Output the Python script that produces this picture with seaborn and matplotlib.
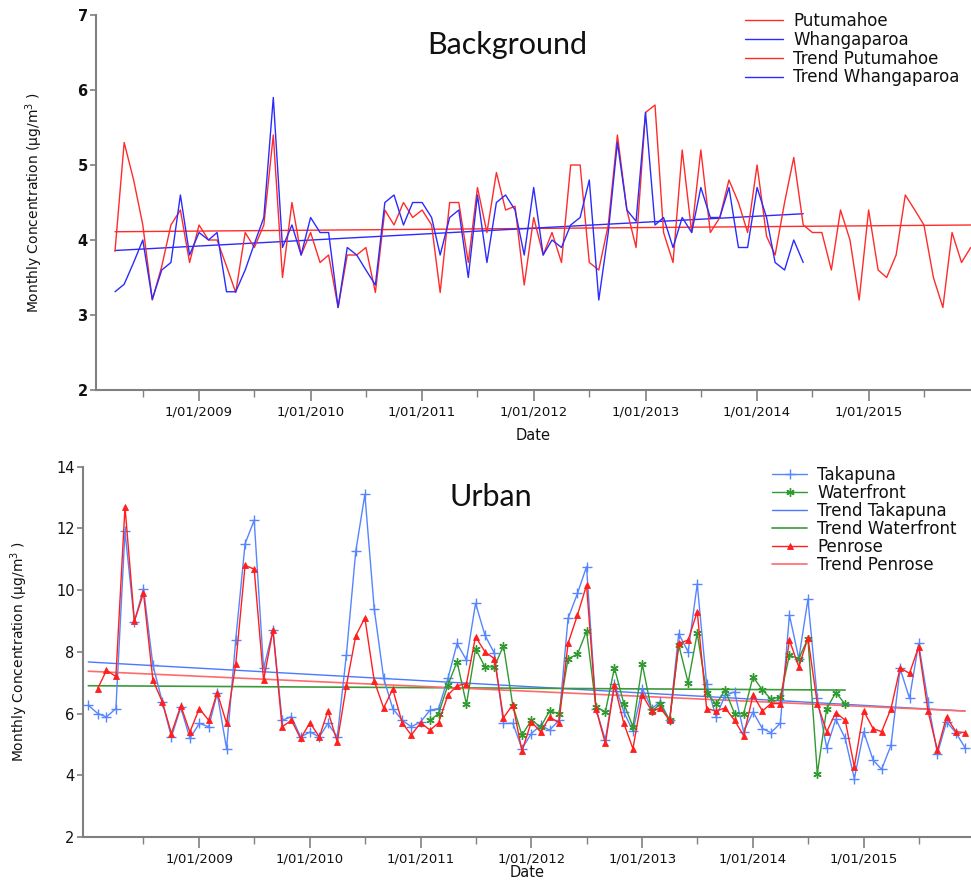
import numpy as np
import pandas as pd
import matplotlib
matplotlib.use("Agg")
import matplotlib.pyplot as plt
import matplotlib.dates as mdates
import seaborn as sns

# ---------------- data ----------------
bg_start = "2008-04-01"
putumahoe = [3.85, 5.3, 4.8, 4.2, 3.2, 3.65, 4.2, 4.4, 3.7, 4.2, 4.0, 4.0, 3.65, 3.3, 4.1, 3.9,
             4.2, 5.4, 3.5, 4.5, 3.8, 4.1, 3.7, 3.8, 3.1, 3.8, 3.8, 3.9, 3.3, 4.4, 4.2, 4.5,
             4.3, 4.4, 4.2, 3.3, 4.5, 4.5, 3.7, 4.7, 4.1, 4.9, 4.4, 4.45, 3.4, 4.3, 3.8, 4.1,
             3.7, 5.0, 5.0, 3.7, 3.6, 4.2, 5.4, 4.4, 3.9, 5.7, 5.8, 4.1, 3.7, 5.2, 4.1, 5.2,
             4.1, 4.3, 4.8, 4.5, 4.1, 5.0, 4.05, 3.8, 4.5, 5.1, 4.2, 4.1, 4.1, 3.6, 4.4, 4.0,
             3.2, 4.4, 3.6, 3.5, 3.8, 4.6, 4.4, 4.2, 3.5, 3.1, 4.1, 3.7, 3.9]
whangaparoa = [3.31, 3.41, 3.7, 4.0, 3.21, 3.6, 3.7, 4.6, 3.8, 4.1, 4.0, 4.1, 3.31, 3.31, 3.6,
               3.95, 4.3, 5.9, 3.9, 4.2, 3.8, 4.3, 4.1, 4.1, 3.1, 3.9, 3.8, 3.6, 3.4, 4.5, 4.6,
               4.2, 4.5, 4.5, 4.3, 3.8, 4.3, 4.4, 3.5, 4.6, 3.7, 4.5, 4.6, 4.4, 3.8, 4.7, 3.8,
               4.0, 3.9, 4.2, 4.3, 4.8, 3.2, 4.1, 5.3, 4.4, 4.25, 5.7, 4.2, 4.3, 3.9, 4.3, 4.1,
               4.7, 4.3, 4.3, 4.7, 3.9, 3.9, 4.7, 4.3, 3.7, 3.6, 4.0, 3.7]
trend_putumahoe = [4.11, 4.20]      # value at first and last month
trend_whangaparoa = [3.86, 4.35]

urban_start = "2008-01-01"
takapuna = [6.27, 6.0, 5.89, 6.16, 11.9, 8.97, 10.05, 7.57, 6.38, 5.24, 6.2, 5.19, 5.68, 5.57,
            6.65, 4.86, 8.38, 11.5, 12.27, 7.46, 8.7, 5.78, 5.9, 5.24, 5.4, 5.24, 5.68, 5.24,
            7.9, 11.26, 13.1, 9.38, 7.14, 6.16, 5.78, 5.57, 5.73, 6.11, 6.16, 7.14, 8.27, 7.73,
            9.57, 8.54, 7.95, 5.68, 5.68, 4.86, 5.35, 5.62, 5.46, 5.78, 9.08, 9.89, 10.76, 6.16,
            5.14, 6.97, 6.05, 5.43, 6.81, 6.16, 6.38, 5.78, 8.59, 8.0, 10.2, 6.97, 5.89, 6.59,
            6.7, 5.41, 6.05, 5.51, 5.38, 5.68, 9.19, 7.78, 9.7, 6.49, 4.89, 5.82, 5.19, 3.89,
            5.41, 4.49, 4.19, 4.97, 7.46, 6.49, 8.27, 6.38, 4.7, 5.73, 5.38, 4.89]
penrose_start = "2008-02-01"
penrose = [6.81, 7.4, 7.2, 12.7, 9.0, 9.9, 7.08, 6.38, 5.35, 6.25, 5.4, 6.16, 5.78, 6.68, 5.68,
           7.59, 10.8, 10.68, 7.08, 8.7, 5.57, 5.78, 5.19, 5.7, 5.24, 6.08, 5.08, 6.9, 8.52, 9.1,
           7.05, 6.18, 6.79, 5.7, 5.3, 5.7, 5.46, 5.7, 6.6, 6.9, 6.97, 8.49, 8.0, 7.78, 5.86,
           6.29, 4.78, 5.73, 5.4, 5.89, 5.7, 8.27, 9.19, 10.16, 6.16, 5.03, 6.92, 5.68, 4.86,
           6.6, 6.08, 6.18, 5.78, 8.27, 8.38, 9.3, 6.16, 6.08, 6.18, 5.78, 5.28, 6.6, 6.08, 6.32,
           6.32, 8.38, 7.51, 8.45, 6.32, 5.41, 6.03, 5.78, 4.27, 6.08, 5.51, 5.41, 6.16, 7.48,
           7.3, 8.16, 6.08, 4.81, 5.89, 5.41, 5.38]
waterfront_start = "2011-02-01"
waterfront = [5.78, 6.0, 6.92, 7.68, 6.3, 8.1, 7.51, 7.51, 8.2, 6.25, 5.3, 5.78, 5.57, 6.08, 6.0,
              7.78, 7.92, 8.67, 6.22, 6.05, 7.48, 6.32, 5.57, 7.59, 6.08, 6.3, 5.78, 8.22, 7.0,
              8.6, 6.68, 6.3, 6.76, 6.0, 6.0, 7.19, 6.76, 6.47, 6.54, 7.89, 7.78, 8.43, 4.05,
              6.16, 6.68, 6.3]
trend_takapuna = [7.67, 6.08]
trend_penrose = [7.37, 6.08]
trend_waterfront = [6.90, 6.76]

tick_years = [2009, 2010, 2011, 2012, 2013, 2014, 2015]
tick_labels = ["1/01/%d" % y for y in tick_years]

# ---------------- style ----------------
sns.set_theme(style="ticks")
plt.rcParams["font.family"] = ["DejaVu Sans"]

W, H = 971, 881
fig = plt.figure(figsize=(W / 100, H / 100), dpi=100)


def px_axes(left, top, right, bottom):
    return fig.add_axes([left / W, 1 - bottom / H, (right - left) / W, (bottom - top) / H])


def set_xlim_px(ax, d_a, px_a, d_b, px_b, left_px, right_px):
    a = mdates.date2num(pd.Timestamp(d_a))
    b = mdates.date2num(pd.Timestamp(d_b))
    s = (b - a) / (px_b - px_a)
    ax.set_xlim(a + (left_px - px_a) * s, a + (right_px - px_a) * s)


def monthly(start, vals):
    return pd.DataFrame({"date": pd.date_range(start, periods=len(vals), freq="MS"), "value": vals})


def trend(start, n, vals):
    d = pd.date_range(start, periods=n, freq="MS")
    return pd.DataFrame({"date": [d[0], d[-1]], "value": vals})


ax1 = px_axes(96, 15, 971, 390)
ax2 = px_axes(83, 466.7, 971, 836.9)

RED = "#ff2b2b"
BLUE = "#2b2bff"

# ---- top panel ----
dp = monthly(bg_start, putumahoe)
dw = monthly(bg_start, whangaparoa)
sns.lineplot(data=trend(bg_start, len(putumahoe), trend_putumahoe), x="date", y="value", ax=ax1,
             color=RED, lw=1.0, label="Trend Putumahoe")
sns.lineplot(data=trend(bg_start, len(whangaparoa), trend_whangaparoa), x="date", y="value", ax=ax1,
             color=BLUE, lw=1.0, label="Trend Whangaparoa")
sns.lineplot(data=dp, x="date", y="value", ax=ax1, color=RED, lw=1.0, label="Putumahoe",
             estimator=None)
sns.lineplot(data=dw, x="date", y="value", ax=ax1, color=BLUE, lw=1.0, label="Whangaparoa",
             estimator=None)

# ---- bottom panel ----
T_BLUE = "#5585ff"
GREEN = "#2f9a2f"
P_RED = "#ff1f1f"
dt = monthly(urban_start, takapuna)
dpn = monthly(penrose_start, penrose)
dwf = monthly(waterfront_start, waterfront)
sns.lineplot(data=trend(urban_start, len(takapuna), trend_takapuna), x="date", y="value", ax=ax2,
             color="#4a78ff", lw=1.0, label="Trend Takapuna")
sns.lineplot(data=trend(urban_start, 83, trend_waterfront), x="date", y="value", ax=ax2,
             color="#3a9a3a", lw=1.2, label="Trend Waterfront")
sns.lineplot(data=trend(urban_start, len(takapuna), trend_penrose), x="date", y="value", ax=ax2,
             color="#ff6a6a", lw=1.2, label="Trend Penrose")
sns.lineplot(data=dt, x="date", y="value", ax=ax2, color=T_BLUE, lw=1.0, marker="+",
             markersize=7, markeredgewidth=1.0, markeredgecolor=T_BLUE, label="Takapuna",
             estimator=None)
sns.lineplot(data=dwf, x="date", y="value", ax=ax2, color=GREEN, lw=1.0, marker=(6, 2, 0),
             markersize=6, markeredgewidth=1.0, markeredgecolor=GREEN, label="Waterfront",
             estimator=None)
sns.lineplot(data=dpn, x="date", y="value", ax=ax2, color=P_RED, lw=1.0, marker="^",
             markersize=5, markeredgewidth=0.6, markerfacecolor=P_RED, markeredgecolor=P_RED,
             label="Penrose", estimator=None)

# ---- axes formatting ----
set_xlim_px(ax1, "2008-04-01", 115, "2015-12-01", 970.7, 96, 971)
set_xlim_px(ax2, "2008-01-01", 88.3, "2015-12-01", 965, 83, 971)
ax1.set_ylim(2, 7)
ax2.set_ylim(2, 14)
ax1.set_yticks(range(2, 8))
ax2.set_yticks(range(2, 15, 2))

major = [pd.Timestamp("%d-01-01" % y) for y in tick_years]
minor = [pd.Timestamp("%d-07-01" % y) for y in [2008] + tick_years]
SPINE = "#808080"
for ax in (ax1, ax2):
    ax.set_xticks(major)
    ax.set_xticklabels(tick_labels)
    ax.set_xticks(minor, minor=True)
    for s in ("top", "right"):
        ax.spines[s].set_visible(False)
    for s in ("left", "bottom"):
        ax.spines[s].set_color(SPINE)
        ax.spines[s].set_linewidth(1.5)
    ax.tick_params(axis="x", which="major", length=8, width=1.2, color=SPINE, labelsize=9.5,
                   labelcolor="#111111", pad=3)
    ax.tick_params(axis="x", which="minor", length=5, width=1.0, color=SPINE)
    ax.tick_params(axis="y", which="major", length=4, width=1.2, color=SPINE, labelsize=10.5,
                   labelcolor="#111111", pad=2)
    ax.set_xlabel("Date", fontsize=10.5, color="#111111")
    ax.set_ylabel("Monthly Concentration (µg/m$^3$ )", fontsize=10, color="#111111")
    ax.get_legend().remove()

for lab in ax1.get_yticklabels():
    lab.set_fontweight("bold")

ax1.xaxis.set_label_coords(0.5, -(428 - 390) / 375)
ax2.xaxis.label.set_va("bottom")
ax2.xaxis.set_label_coords(0.5, -(880 - 836.9) / 370.2)
ax1.yaxis.set_label_coords((45 - 96) / 875, 0.5)
ax2.yaxis.set_label_coords((30 - 83) / 888, 0.5)

fig.text(507 / W, 1 - 45 / H, "Background", ha="center", va="center", fontsize=22,
         family=["Lato", "DejaVu Sans"], color="#111111")
fig.text(491 / W, 1 - 497 / H, "Urban", ha="center", va="center", fontsize=22,
         family=["Lato", "DejaVu Sans"], color="#111111")

# ---- legends ----
def make_legend(ax, order, anchor, spacing, hlen):
    h, l = ax.get_legend_handles_labels()
    m = dict(zip(l, h))
    ax.legend([m[k] for k in order], order, loc="upper left",
              bbox_to_anchor=(anchor[0] / W, 1 - anchor[1] / H), bbox_transform=fig.transFigure,
              frameon=False, fontsize=12, labelspacing=spacing, handlelength=hlen,
              handletextpad=0.6, borderpad=0, borderaxespad=0, labelcolor="#111111")

make_legend(ax1, ["Putumahoe", "Whangaparoa", "Trend Putumahoe", "Trend Whangaparoa"],
            (745, 12), 0.05, 2.3)
make_legend(ax2, ["Takapuna", "Waterfront", "Trend Takapuna", "Trend Waterfront", "Penrose",
                  "Trend Penrose"], (772, 466), 0.0, 2.1)

fig.savefig("out.png", dpi=100)
